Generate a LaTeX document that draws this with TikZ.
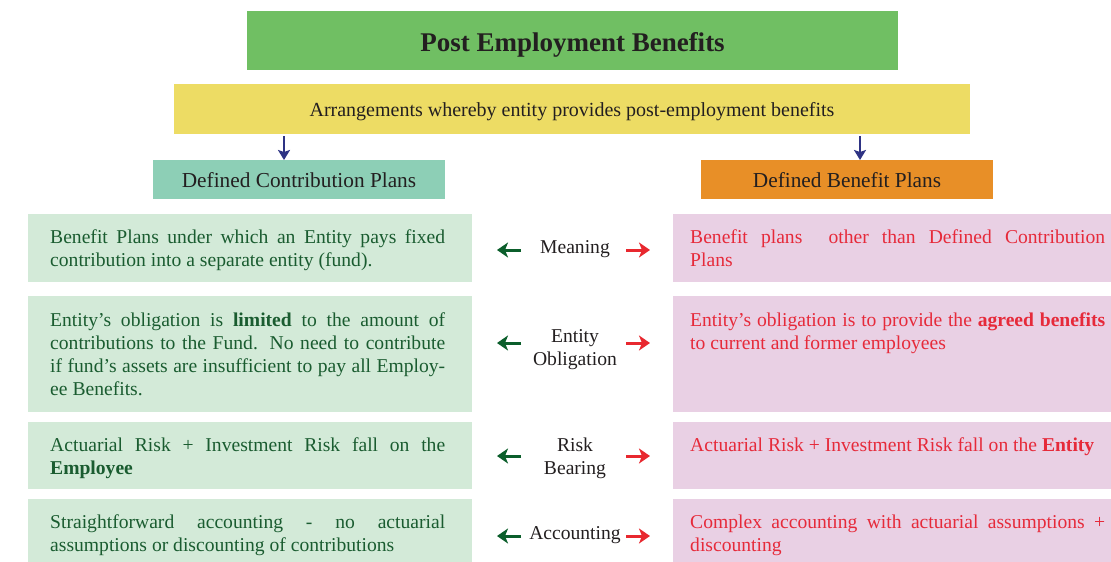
\documentclass[tikz,border=0pt]{standalone}
\usepackage{fontspec}
\setmainfont{Liberation Serif}
\usetikzlibrary{arrows.meta}
\definecolor{titlegreen}{HTML}{70BF63}
\definecolor{yel}{HTML}{EDDC64}
\definecolor{teal}{HTML}{8DCFB6}
\definecolor{orng}{HTML}{E88F27}
\definecolor{lgreen}{HTML}{D3EAD8}
\definecolor{lpink}{HTML}{E9D0E4}
\definecolor{navy}{HTML}{2E3384}
\definecolor{dgreen}{HTML}{1A5C30}
\definecolor{arrgreen}{HTML}{0B5E2B}
\definecolor{rtext}{HTML}{E62A3A}
\definecolor{arrred}{HTML}{E8282F}
\definecolor{ink}{HTML}{231F20}
\begin{document}
\begin{tikzpicture}[x=1pt,y=-1pt,
  box/.style={draw=none,inner sep=0pt,outer sep=0pt,text=ink},
  lbl/.style={inner sep=0pt,text=ink},
  lbox/.style={box,fill=lgreen,minimum width=444pt},
  rbox/.style={box,fill=lpink,minimum width=438pt},
  ltext/.style={anchor=north west,inner sep=0pt,text width=395pt,align=justify,text=dgreen,font=\fontsize{19.6}{23}\selectfont},
  rtextst/.style={anchor=north west,inner sep=0pt,text width=415pt,align=justify,text=rtext,font=\fontsize{19.6}{23}\selectfont},
  mid/.style={inner sep=0pt,align=center,text=ink,font=\fontsize{19.6}{23}\selectfont},
  navyarr/.style={draw=navy,line width=2pt,-{Stealth[length=10pt,width=12pt,inset=2pt]}},
  garr/.style={draw=arrgreen,line width=3pt,-{Stealth[length=11pt,width=15pt,inset=3pt]}},
  rarr/.style={draw=arrred,line width=3pt,-{Stealth[length=11pt,width=15pt,inset=3pt]}}
]
\useasboundingbox (0,0) rectangle (1111,562);
\fill[white] (0,0) rectangle (1111,562);

\node[box,fill=titlegreen,minimum width=651pt,minimum height=59pt] (title) at (572.5,40.5) {};
\node[lbl,font=\fontsize{27}{30}\selectfont\bfseries] (titletext) at ([yshift=-4pt]title.center) {Post Employment Benefits};
\node[box,fill=yel,minimum width=796pt,minimum height=50pt] (arr) at (572,109) {};
\node[lbl,font=\fontsize{20}{23}\selectfont] (arrtext) at ([yshift=-3pt]arr.center) {Arrangements whereby entity provides post-employment benefits};
\node[box,fill=teal,minimum width=292pt,minimum height=39pt] (dcp) at (299,179.5) {};
\node[lbl,font=\fontsize{21.3}{24}\selectfont] (dcptext) at ([yshift=-1pt]dcp.center) {Defined Contribution Plans};
\node[box,fill=orng,minimum width=292pt,minimum height=39pt] (dbp) at (847,179.5) {};
\node[lbl,font=\fontsize{21.3}{24}\selectfont] (dbptext) at ([yshift=-1pt]dbp.center) {Defined Benefit Plans};
\coordinate (aL) at (284,0);
\coordinate (aR) at (860,0);
\draw[navyarr] (aL |- arr.south) ++(0,2) -- (aL |- dcp.north);
\draw[navyarr] (aR |- arr.south) ++(0,2) -- (aR |- dbp.north);

% left boxes
\node[lbox,minimum height=68pt] (l1) at (250,248) {};
\node[lbox,minimum height=116pt] (l2) at (250,354) {};
\node[lbox,minimum height=67pt] (l3) at (250,455.5) {};
\node[lbox,minimum height=64pt] (l4) at (250,531) {};
% right boxes
\node[rbox,minimum height=68pt] (r1) at (892,248) {};
\node[rbox,minimum height=116pt] (r2) at (892,354) {};
\node[rbox,minimum height=67pt] (r3) at (892,455.5) {};
\node[rbox,minimum height=64pt] (r4) at (892,531) {};

% left texts
\node[ltext] (lt1) at (50,227) {\strut Benefit Plans under which an Entity pays fixed\linebreak contribution into a separate entity (fund).};
\node[ltext] (lt2) at (50,310) {\strut Entity’s obligation is \textbf{limited} to the amount of\linebreak contributions to the Fund. No need to contribute\linebreak if fund’s assets are insufficient to pay all Employ-\linebreak ee Benefits.};
\node[ltext] (lt3) at (50,435) {\strut Actuarial Risk + Investment Risk fall on the\linebreak \textbf{Employee}};
\node[ltext] (lt4) at (50,512) {\strut Straightforward accounting - no actuarial\linebreak assumptions or discounting of contributions};
% right texts
\node[rtextst] (rt1) at (690,227) {\strut Benefit plans\ \ other than Defined Contribution\linebreak Plans};
\node[rtextst] (rt2) at (690,310) {\strut Entity’s obligation is to provide the \textbf{agreed benefits}\linebreak to current and former employees};
\node[rtextst] (rt3) at (690,435) {\strut Actuarial Risk + Investment Risk fall on the \textbf{Entity}};
\node[rtextst] (rt4) at (690,512) {\strut Complex accounting with actuarial assumptions +\linebreak discounting};

% middle labels
\node[mid] (m1) at (575,249) {Meaning};
\node[mid] (m2) at (575,350) {Entity\\Obligation};
\node[mid] (m3) at (575,458) {Risk\\Bearing};
\node[mid] (m4) at (575,535) {Accounting};

\draw[garr] (521,250) -- (497,250);
\draw[rarr] (626,250) -- (650,250);
\draw[garr] (521,343) -- (497,343);
\draw[rarr] (626,343) -- (650,343);
\draw[garr] (521,456) -- (497,456);
\draw[rarr] (626,456) -- (650,456);
\draw[garr] (521,536) -- (497,536);
\draw[rarr] (626,536) -- (650,536);
\end{tikzpicture}
\end{document}
